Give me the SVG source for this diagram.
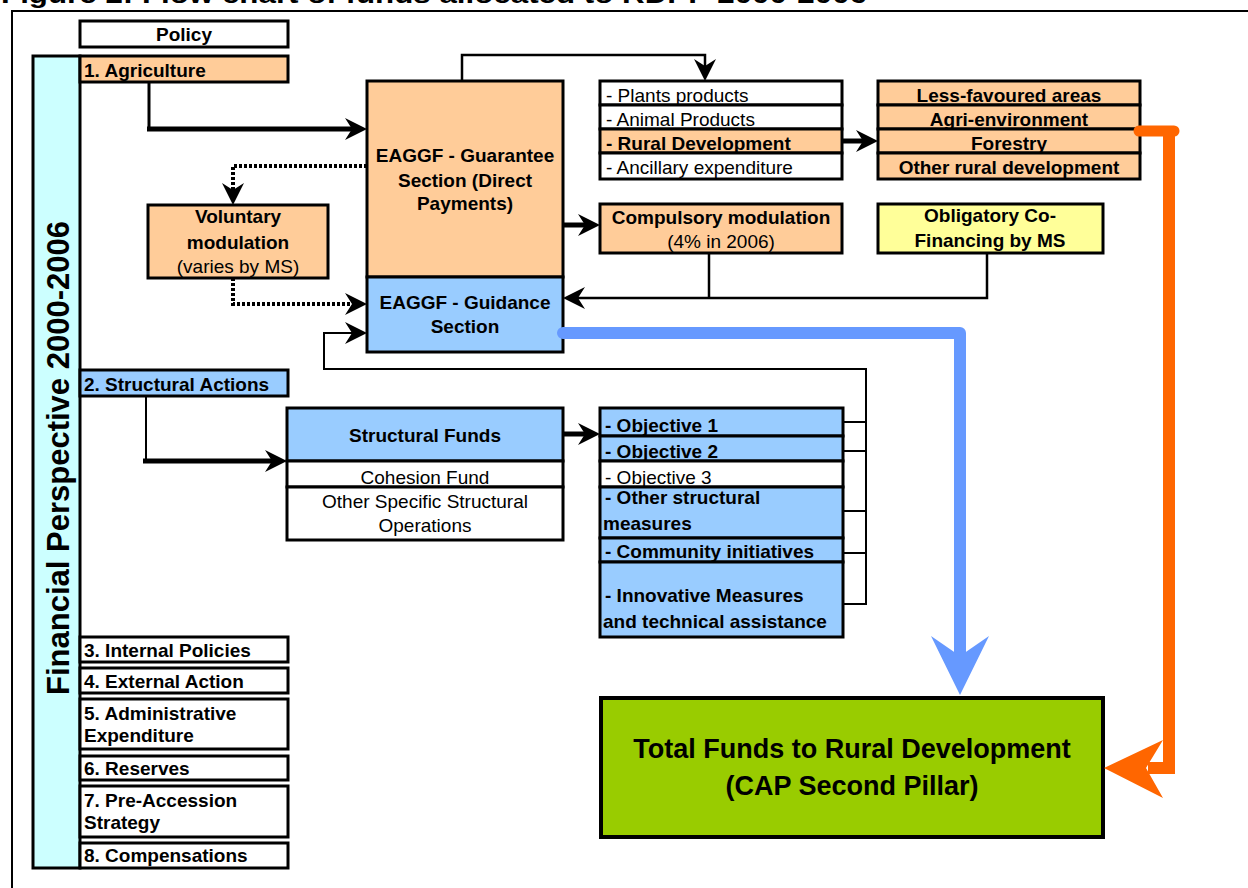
<svg xmlns="http://www.w3.org/2000/svg" width="1248" height="888" viewBox="0 0 1248 888">
<style>
.bx{stroke:#000;stroke-width:3}
.w{fill:#fff}.p{fill:#FFCC99}.bl{fill:#99CCFF}.cy{fill:#CCFFFF}.ye{fill:#FFFF99}.gr{fill:#99CC00}
text{font-family:"Liberation Sans",Arial,Helvetica,sans-serif;font-size:19px;fill:#000}
.b{font-weight:bold}
.c{text-anchor:middle}
.ln{fill:none;stroke:#000}
.thick{stroke-width:5}
.thin{stroke-width:2.5}
.dot{stroke-width:4;stroke-dasharray:3 2}
</style>
<defs>
<marker id="ah" markerUnits="userSpaceOnUse" markerWidth="24" markerHeight="24" viewBox="0 -12 24 24" refX="14" refY="0" orient="auto">
<path d="M0,-11 L22,0 L0,11 L7,0 z" fill="#000"/>
</marker>
</defs>
<rect width="1248" height="888" fill="#fff"/>
<text x="1" y="3" class="b" style="font-size:26px" textLength="866" lengthAdjust="spacingAndGlyphs">Figure 2: Flow chart of funds allocated to RDPP 2000-2006</text>
<rect x="12" y="11" width="1250" height="900" fill="none" stroke="#000" stroke-width="2"/>

<g id="policy"><rect class="bx w" x="80" y="21" width="208" height="26"/><text class="b c" x="184" y="41">Policy</text></g>
<g id="financial-perspective"><rect class="bx cy" x="33" y="56" width="47" height="812"/><text class="b c" style="font-size:31px" transform="translate(69,458) rotate(-90)">Financial Perspective 2000-2006</text></g>
<g id="agriculture"><rect class="bx p" x="80" y="56" width="208" height="26"/><text class="b" x="84" y="77">1. Agriculture</text></g>
<g id="structural-actions"><rect class="bx bl" x="80" y="370" width="208" height="26"/><text class="b" x="84" y="391">2. Structural Actions</text></g>
<g id="internal-policies"><rect class="bx w" x="80" y="637" width="208" height="25"/><text class="b" x="84" y="657">3. Internal Policies</text></g>
<g id="external-action"><rect class="bx w" x="80" y="668" width="208" height="25"/><text class="b" x="84" y="688">4. External Action</text></g>
<g id="administrative"><rect class="bx w" x="80" y="699" width="208" height="50"/><text class="b" x="84" y="720">5. Administrative</text><text class="b" x="84" y="742">Expenditure</text></g>
<g id="reserves"><rect class="bx w" x="80" y="756" width="208" height="24"/><text class="b" x="84" y="775">6. Reserves</text></g>
<g id="pre-accession"><rect class="bx w" x="80" y="786" width="208" height="51"/><text class="b" x="84" y="807">7. Pre-Accession</text><text class="b" x="84" y="829">Strategy</text></g>
<g id="compensations"><rect class="bx w" x="80" y="843" width="208" height="25"/><text class="b" x="84" y="862">8. Compensations</text></g>

<g id="eaggf-guarantee"><rect class="bx p" x="367" y="81" width="196" height="196"/><text class="b c" x="465" y="162">EAGGF - Guarantee</text><text class="b c" x="465" y="187">Section (Direct</text><text class="b c" x="465" y="210">Payments)</text></g>
<g id="eaggf-guidance"><rect class="bx bl" x="367" y="277" width="196" height="75"/><text class="b c" x="465" y="309">EAGGF - Guidance</text><text class="b c" x="465" y="333">Section</text></g>
<g id="voluntary-modulation"><rect class="bx p" x="148" y="205" width="180" height="73"/><text class="b c" x="238" y="223">Voluntary</text><text class="b c" x="238" y="249">modulation</text><text class="c" x="238" y="273">(varies by MS)</text></g>

<g id="product-list">
<rect class="bx w" x="600" y="81" width="242" height="24"/><text x="606" y="102">- Plants products</text>
<rect class="bx w" x="600" y="105" width="242" height="24"/><text x="606" y="126">- Animal Products</text>
<rect class="bx p" x="600" y="129" width="242" height="24"/><text class="b" x="606" y="150">- Rural Development</text>
<rect class="bx w" x="600" y="153" width="242" height="26"/><text x="606" y="174">- Ancillary expenditure</text>
</g>
<g id="rural-development-measures">
<rect class="bx p" x="878" y="81" width="262" height="24"/><text class="b c" x="1009" y="102">Less-favoured areas</text>
<rect class="bx p" x="878" y="105" width="262" height="24"/><text class="b c" x="1009" y="126">Agri-environment</text>
<rect class="bx p" x="878" y="129" width="262" height="24"/><text class="b c" x="1009" y="150">Forestry</text>
<rect class="bx p" x="878" y="153" width="262" height="26"/><text class="b c" x="1009" y="174">Other rural development</text>
</g>
<g id="compulsory-modulation"><rect class="bx p" x="600" y="204" width="242" height="49"/><text class="b c" x="721" y="224">Compulsory modulation</text><text class="c" x="721" y="248">(4% in 2006)</text></g>
<g id="obligatory-cofinancing"><rect class="bx ye" x="878" y="204" width="225" height="49"/><text class="b c" x="990" y="222">Obligatory Co-</text><text class="b c" x="990" y="247">Financing by MS</text></g>

<g id="structural-funds">
<rect class="bx bl" x="287" y="408" width="276" height="53"/><text class="b c" x="425" y="442">Structural Funds</text>
<rect class="bx w" x="287" y="461" width="276" height="26"/><text class="c" x="425" y="484">Cohesion Fund</text>
<rect class="bx w" x="287" y="487" width="276" height="53"/><text class="c" x="425" y="508">Other Specific Structural</text><text class="c" x="425" y="532">Operations</text>
</g>
<g id="objectives">
<rect class="bx bl" x="600" y="408" width="243" height="28"/><text class="b" x="605" y="432">- Objective 1</text>
<rect class="bx bl" x="600" y="436" width="243" height="25"/><text class="b" x="605" y="458">- Objective 2</text>
<rect class="bx w" x="600" y="461" width="243" height="26"/><text x="605" y="484">- Objective 3</text>
<rect class="bx bl" x="600" y="487" width="243" height="51"/><text class="b" x="605" y="504">- Other structural</text><text class="b" x="603" y="530">measures</text>
<rect class="bx bl" x="600" y="538" width="243" height="24"/><text class="b" x="605" y="558">- Community initiatives</text>
<rect class="bx bl" x="600" y="562" width="243" height="75"/><text class="b" x="605" y="602">- Innovative Measures</text><text class="b" x="603" y="628">and technical assistance</text>
</g>
<g id="total-funds"><rect class="gr" x="601" y="698" width="502" height="139" stroke="#000" stroke-width="4"/><text class="b c" style="font-size:27px" x="852" y="758">Total Funds to Rural Development</text><text class="b c" style="font-size:27px" x="852" y="795">(CAP Second Pillar)</text></g>

<g id="connectors">
<path class="ln" stroke-width="3" d="M149,82 V129"/>
<path class="ln thick" d="M147,129 H359" marker-end="url(#ah)"/>
<path class="ln dot" d="M367,166 H233 V197" marker-end="url(#ah)"/>
<path class="ln dot" d="M233,278 V304 H359" marker-end="url(#ah)"/>
<path class="ln thick" d="M563,225 H592" marker-end="url(#ah)"/>
<path class="ln thin" d="M462,81 V55 H705 V73" marker-end="url(#ah)"/>
<path class="ln thick" d="M842,141 H870" marker-end="url(#ah)"/>
<path class="ln thin" d="M709,253 V298"/>
<path class="ln thin" d="M987,253 V298 H571" marker-end="url(#ah)"/>
<path class="ln" stroke-width="2" d="M866,605 V369 H324 V333 H359" marker-end="url(#ah)"/>
<path class="ln" stroke-width="2" d="M843,422 H866 M843,451 H866 M843,511 H866 M843,553 H866 M843,604 H866"/>
<path class="ln" stroke-width="2" d="M146,396 V461"/>
<path class="ln thick" d="M143,461 H279" marker-end="url(#ah)"/>
<path class="ln thick" d="M563,434 H592" marker-end="url(#ah)"/>
<path d="M563,333 H960 V662" fill="none" stroke="#6699FF" stroke-width="12" stroke-linecap="round" stroke-linejoin="round"/>
<polygon points="931,636 960,656 989,636 960,695" fill="#6699FF"/>
<path d="M1139,131 H1174" fill="none" stroke="#FF6600" stroke-width="11" stroke-linecap="round"/>
<path d="M1169,131 V768 H1148" fill="none" stroke="#FF6600" stroke-width="12" stroke-linejoin="miter"/>
<polygon points="1163,740 1146,768 1163,798 1104,768" fill="#FF6600"/>
</g>
</svg>
